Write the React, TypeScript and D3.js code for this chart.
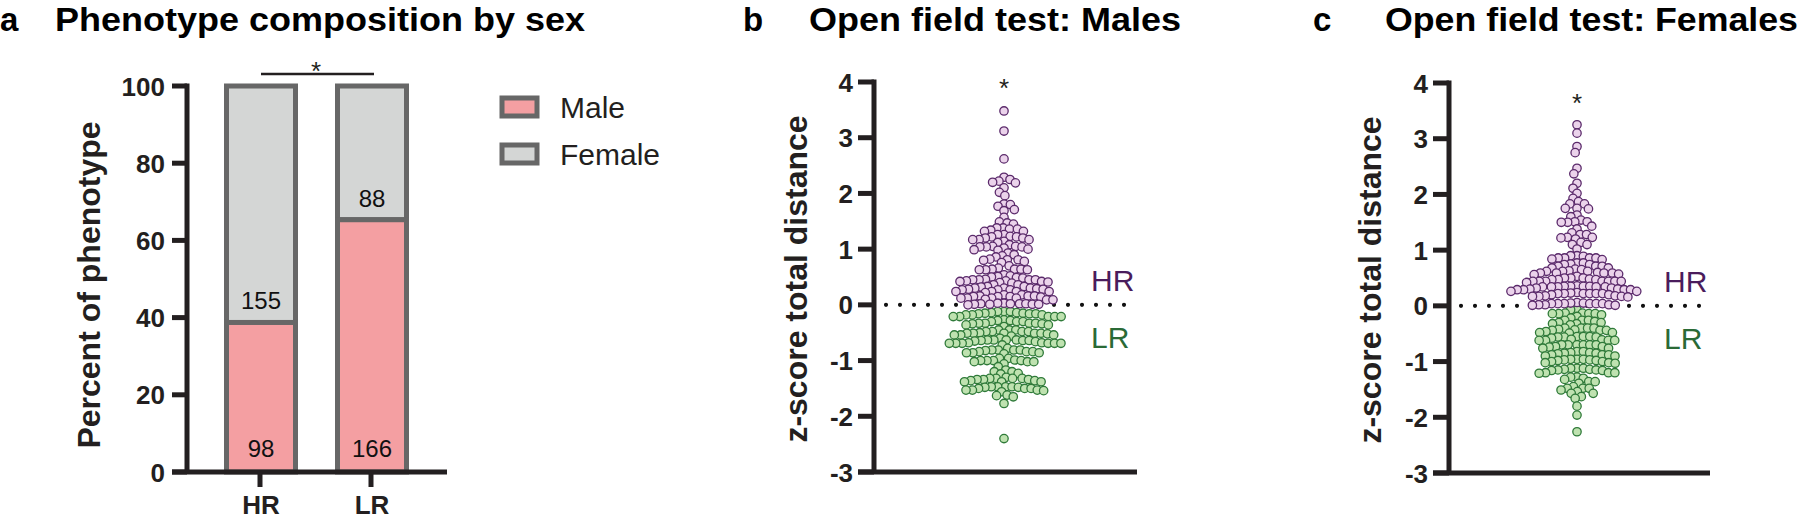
import React from 'react';
import * as d3 from 'd3';

// ---------- Data ----------
const barCategories = ['HR', 'LR'];
const maleCounts = [98, 166];
const femaleCounts = [155, 88];
const barTicks = [0, 20, 40, 60, 80, 100];
const zTicks = [-3, -2, -1, 0, 1, 2, 3, 4];
const legendLabels = ['Male', 'Female'];

const maleHR = [3.48, 3.12, 2.62,
  2.29, 2.25, 2.22, 2.20, 2.19, 2.10, 2.02, 1.96,
  1.81, 1.80, 1.77, 1.71, 1.69, 1.57,
  1.49, 1.47, 1.45,
  1.38, 1.38, 1.36, 1.36, 1.34, 1.32, 1.32,
  1.26, 1.26, 1.23, 1.22, 1.22, 1.20, 1.20, 1.17, 1.17, 1.17, 1.14, 1.12,
  1.08, 1.05, 1.05, 1.04, 1.04, 1.04, 1.02, 1.00, 0.99, 0.98,
  0.93, 0.90, 0.88, 0.86, 0.82, 0.81, 0.81, 0.80, 0.78, 0.76, 0.70,
  0.66, 0.64, 0.64, 0.64, 0.63, 0.63, 0.63, 0.54, 0.52,
  0.51, 0.50, 0.49, 0.48, 0.46, 0.45, 0.45, 0.45, 0.45, 0.43, 0.43, 0.42, 0.42, 0.41, 0.40, 0.39, 0.36,
  0.36, 0.33, 0.33, 0.32, 0.30, 0.30, 0.30, 0.29, 0.28, 0.28, 0.27, 0.27, 0.27, 0.24, 0.24, 0.24, 0.24, 0.22,
  0.18, 0.18, 0.16, 0.16, 0.16, 0.15, 0.15, 0.15, 0.14, 0.12, 0.12, 0.12, 0.12, 0.10, 0.09, 0.09,
  0.03, 0.03, 0.02, 0.02, 0.02, 0.02, 0.01, 0.01, 0.01, 0.01, 0.00];

const maleLR = [-0.12, -0.12, -0.12, -0.14, -0.14, -0.15, -0.15, -0.16, -0.16, -0.16, -0.18, -0.18, -0.18, -0.21, -0.21, -0.21, -0.21, -0.21,
  -0.27, -0.28, -0.28, -0.30, -0.30, -0.30, -0.33, -0.33, -0.33, -0.33, -0.34, -0.34, -0.36, -0.36, -0.39,
  -0.45, -0.45, -0.45, -0.48, -0.48, -0.48, -0.48, -0.50, -0.51, -0.51, -0.51, -0.51, -0.51, -0.52, -0.54, -0.54, -0.54, -0.56,
  -0.60, -0.63, -0.63, -0.63, -0.63, -0.64, -0.64, -0.64, -0.65, -0.66, -0.68, -0.68, -0.69, -0.69, -0.69, -0.69, -0.69, -0.69, -0.72,
  -0.78, -0.81, -0.81, -0.81, -0.81, -0.82, -0.84, -0.84, -0.84, -0.86, -0.86, -0.86, -0.88,
  -0.96, -0.96, -0.99, -1.00, -1.00, -1.00, -1.00, -1.02, -1.02, -1.02, -1.06, -1.11,
  -1.17, -1.20, -1.20, -1.23, -1.24,
  -1.30, -1.32, -1.32, -1.32, -1.32, -1.34, -1.34, -1.34, -1.36, -1.36, -1.38, -1.38, -1.38,
  -1.47, -1.47, -1.47, -1.47, -1.48, -1.48, -1.50, -1.50, -1.50, -1.53, -1.53, -1.53, -1.54, -1.56,
  -1.62, -1.63, -1.65, -1.77,
  -2.40];

const femaleHR = [3.25, 3.10, 2.86, 2.75, 2.47, 2.37, 2.20, 2.11, 2.02, 1.93, 1.87, 1.83, 1.83, 1.75, 1.75, 1.74, 1.63, 1.60,
  1.54, 1.51, 1.51, 1.50, 1.50, 1.43, 1.38, 1.31, 1.28, 1.28, 1.23, 1.23, 1.22, 1.20, 1.14, 1.10, 1.10, 1.02,
  0.90, 0.90, 0.89, 0.86, 0.86, 0.86, 0.86, 0.84, 0.83,
  0.77, 0.77, 0.75, 0.74, 0.74, 0.71, 0.71, 0.71, 0.68,
  0.68, 0.66, 0.65, 0.63, 0.62, 0.62, 0.62, 0.60, 0.59, 0.59, 0.59, 0.59, 0.57, 0.56, 0.53,
  0.50, 0.50, 0.50, 0.48, 0.47, 0.47, 0.47, 0.44, 0.44, 0.44, 0.44, 0.44, 0.44, 0.44, 0.42,
  0.36, 0.35, 0.35, 0.35, 0.35, 0.34, 0.34, 0.34, 0.34, 0.34, 0.32, 0.32, 0.30, 0.30, 0.29, 0.29, 0.29, 0.29, 0.26, 0.26,
  0.24, 0.23, 0.22, 0.22, 0.22, 0.22, 0.22, 0.22, 0.20, 0.20, 0.18, 0.18, 0.17, 0.17, 0.17, 0.16,
  0.06, 0.05, 0.05, 0.04, 0.04, 0.04, 0.04, 0.04, 0.04, 0.02, 0.02, 0.02, 0.01, 0.01];

const femaleLR = [-0.07, -0.07, -0.13, -0.13, -0.14, -0.14, -0.14, -0.14, -0.16, -0.19, -0.22,
  -0.26, -0.26, -0.26, -0.28, -0.30, -0.30, -0.32, -0.32, -0.34,
  -0.40, -0.40, -0.40, -0.40, -0.42, -0.43, -0.44, -0.44, -0.44, -0.46, -0.48, -0.48, -0.49,
  -0.55, -0.55, -0.55, -0.56, -0.56, -0.56, -0.58, -0.60, -0.61, -0.62, -0.62, -0.62, -0.62,
  -0.70, -0.70, -0.70, -0.70, -0.70, -0.70, -0.73, -0.73, -0.74, -0.76, -0.76,
  -0.82, -0.82, -0.84, -0.84, -0.85, -0.85, -0.86, -0.88, -0.88, -0.88, -0.90, -0.90,
  -0.96, -0.96, -0.96, -0.97, -0.97, -0.98, -0.98, -1.00, -1.00, -1.02, -1.02, -1.03,
  -1.12, -1.12, -1.12, -1.14, -1.14, -1.15, -1.15, -1.16, -1.16, -1.20, -1.20, -1.20, -1.21,
  -1.28, -1.28, -1.30, -1.32, -1.36, -1.36, -1.39,
  -1.45, -1.48, -1.48, -1.48, -1.51, -1.54, -1.57, -1.57,
  -1.63, -1.66, -1.80, -1.96, -2.26];

// ---------- Style ----------
const FONT = "Arial, 'Liberation Sans', Helvetica, sans-serif";
const AXIS = '#231f20';
const MALE_FILL = '#f49fa2';
const FEMALE_FILL = '#d4d6d5';
const BAR_STROKE = '#676767';
const HR_FILL = '#ebd3eb';
const HR_STROKE = '#5b2a6b';
const LR_FILL = '#bfe2b0';
const LR_STROKE = '#2f7a39';
const HR_TEXT = '#4a1c5c';
const LR_TEXT = '#2a6a36';

type Pt = { v: number; g: string };

function swarm(points: Pt[], y: (v: number) => number, d: number) {
  const sorted = [...points].sort((a, b) => b.v - a.v);
  const placed: { x: number; y: number; g: string }[] = [];
  let flip = false;
  for (const p of sorted) {
    const py = y(p.v);
    const iv: [number, number][] = [];
    for (const q of placed) {
      const dy = Math.abs(q.y - py);
      if (dy < d) {
        const w = Math.sqrt(d * d - dy * dy);
        iv.push([q.x - w, q.x + w]);
      }
    }
    const cands = [0];
    iv.forEach(([a, b]) => cands.push(a, b));
    const ok = (x: number) => iv.every(([a, b]) => x <= a + 1e-6 || x >= b - 1e-6);
    let best = Infinity;
    let bestX = 0;
    for (const c of cands) {
      if (!ok(c)) continue;
      const s = Math.abs(c);
      if (s < best - 1e-6) { best = s; bestX = c; }
      else if (Math.abs(s - best) < 1e-6 && ((flip && c < bestX) || (!flip && c > bestX))) { bestX = c; }
    }
    flip = !flip;
    placed.push({ x: bestX, y: py, g: p.g });
  }
  return placed;
}

function BarPanel() {
  const y = d3.scaleLinear().domain([0, 100]).range([472, 86]);
  const x = d3.scaleBand().domain(barCategories).range([205.5, 427.5]).paddingInner(1 / 3).paddingOuter(1 / 6);
  const axisX = 187;
  const bw = x.bandwidth();
  return (
    <g>
      {barCategories.map((c, i) => {
        const total = maleCounts[i] + femaleCounts[i];
        const pm = (maleCounts[i] / total) * 100;
        const x0 = x(c)! + 2.5;
        const w = bw - 5;
        return (
          <g key={c}>
            <rect x={x0} y={y(100)} width={w} height={y(pm) - y(100)} fill={FEMALE_FILL} stroke={BAR_STROKE} strokeWidth={5} />
            <rect x={x0} y={y(pm)} width={w} height={y(0) - y(pm)} fill={MALE_FILL} stroke={BAR_STROKE} strokeWidth={5} />
            <text x={x(c)! + bw / 2} y={y(pm) - 13} textAnchor="middle" fontSize={24} fontFamily={FONT} fill="#111">{femaleCounts[i]}</text>
            <text x={x(c)! + bw / 2} y={y(0) - 15} textAnchor="middle" fontSize={24} fontFamily={FONT} fill="#111">{maleCounts[i]}</text>
          </g>
        );
      })}
      <line x1={axisX} x2={axisX} y1={y(100) - 2.5} y2={y(0)} stroke={AXIS} strokeWidth={5} />
      <line x1={172} x2={447} y1={y(0)} y2={y(0)} stroke={AXIS} strokeWidth={5} />
      {barTicks.map(t => (
        <g key={t}>
          <line x1={172} x2={axisX} y1={y(t)} y2={y(t)} stroke={AXIS} strokeWidth={5} />
          <text x={165} y={y(t) + 9.5} textAnchor="end" fontSize={26} fontWeight="bold" fontFamily={FONT} fill={AXIS}>{t}</text>
        </g>
      ))}
      {barCategories.map(c => (
        <g key={c}>
          <line x1={x(c)! + bw / 2 - 1} x2={x(c)! + bw / 2 - 1} y1={y(0)} y2={y(0) + 15} stroke={AXIS} strokeWidth={5} />
          <text x={x(c)! + bw / 2} y={514} textAnchor="middle" fontSize={26} fontWeight="bold" fontFamily={FONT} fill={AXIS}>{c}</text>
        </g>
      ))}
      <text transform={`translate(100, ${(y(0) + y(100)) / 2 + 6}) rotate(-90)`} textAnchor="middle" fontSize={32} fontWeight="bold" fontFamily={FONT} fill={AXIS}>Percent of phenotype</text>
      <line x1={x('HR')! + bw / 2} x2={x('LR')! + bw / 2 + 2} y1={74} y2={74} stroke={AXIS} strokeWidth={2.5} />
      <text x={316} y={80} textAnchor="middle" fontSize={26} fontFamily={FONT} fill={AXIS}>*</text>
      {legendLabels.map((l, i) => (
        <g key={l}>
          <rect x={502} y={98 + i * 47} width={35} height={18} fill={i === 0 ? MALE_FILL : FEMALE_FILL} stroke={BAR_STROKE} strokeWidth={5} />
          <text x={560} y={118 + i * 47} fontSize={30} fontFamily={FONT} fill={AXIS}>{l}</text>
        </g>
      ))}
    </g>
  );
}

function SwarmPanel({ hr, lr, axisX, yTop, yBot, xEnd, cx, starY, labelX, titleX, dotEnd }: any) {
  const y = d3.scaleLinear().domain([-3, 4]).range([yBot, yTop]);
  const pts: Pt[] = [...hr.map((v: number) => ({ v, g: 'HR' })), ...lr.map((v: number) => ({ v, g: 'LR' }))];
  const placed = swarm(pts, y, 6.4);
  const tickStart = axisX - 16;
  return (
    <g>
      <line x1={axisX + 12} x2={dotEnd} y1={y(0)} y2={y(0)} stroke="#111" strokeWidth={4.2} strokeDasharray="0 14" strokeLinecap="round" />
      {placed.sort((a, b) => (a.g === b.g ? 0 : a.g === 'LR' ? -1 : 1)).map((p, i) => (
        <circle key={i} cx={cx + p.x} cy={p.y} r={4.2}
          fill={p.g === 'HR' ? HR_FILL : LR_FILL} stroke={p.g === 'HR' ? HR_STROKE : LR_STROKE} strokeWidth={1.3} />
      ))}
      <line x1={axisX} x2={axisX} y1={y(4) - 2.5} y2={y(-3)} stroke={AXIS} strokeWidth={5} />
      <line x1={tickStart} x2={xEnd} y1={y(-3)} y2={y(-3)} stroke={AXIS} strokeWidth={5} />
      {zTicks.map(t => (
        <g key={t}>
          <line x1={tickStart} x2={axisX} y1={y(t)} y2={y(t)} stroke={AXIS} strokeWidth={5} />
          <text x={tickStart - 5} y={y(t) + 9.5} textAnchor="end" fontSize={26} fontWeight="bold" fontFamily={FONT} fill={AXIS}>{t}</text>
        </g>
      ))}
      <text transform={`translate(${titleX}, ${(y(4) + y(-3)) / 2 + 2}) rotate(-90)`} textAnchor="middle" fontSize={32} fontWeight="bold" fontFamily={FONT} fill={AXIS}>z-score total distance</text>
      <text x={cx} y={starY} textAnchor="middle" fontSize={26} fontFamily={FONT} fill={AXIS}>*</text>
      <text x={labelX} y={y(0) - 14} fontSize={30} fontFamily={FONT} fill={HR_TEXT}>HR</text>
      <text x={labelX} y={y(0) + 43} fontSize={30} fontFamily={FONT} fill={LR_TEXT}>LR</text>
    </g>
  );
}

export default function App() {
  return (
    <svg width={1800} height={520} style={{ position: 'absolute', left: 0, top: 0, background: '#fff' }} fontFamily={FONT}>
      <rect width={1800} height={520} fill="#fff" />
      <text x={0} y={31} fontSize={33} fontWeight="bold" fill="#000">a</text>
      <text x={55} y={31} fontSize={33} fontWeight="bold" fill="#000" textLength={530} lengthAdjust="spacingAndGlyphs">Phenotype composition by sex</text>
      <text x={743} y={31} fontSize={33} fontWeight="bold" fill="#000">b</text>
      <text x={809} y={31} fontSize={33} fontWeight="bold" fill="#000" textLength={372} lengthAdjust="spacingAndGlyphs">Open field test: Males</text>
      <text x={1313} y={31} fontSize={33} fontWeight="bold" fill="#000">c</text>
      <text x={1385} y={31} fontSize={33} fontWeight="bold" fill="#000" textLength={413} lengthAdjust="spacingAndGlyphs">Open field test: Females</text>
      <BarPanel />
      <SwarmPanel hr={maleHR} lr={maleLR} axisX={874} yTop={82} yBot={472} xEnd={1137} cx={1004} starY={97} labelX={1091} titleX={807} dotEnd={1136} />
      <SwarmPanel hr={femaleHR} lr={femaleLR} axisX={1449} yTop={83} yBot={473} xEnd={1710} cx={1577} starY={112} labelX={1664} titleX={1381} dotEnd={1709} />
    </svg>
  );
}
